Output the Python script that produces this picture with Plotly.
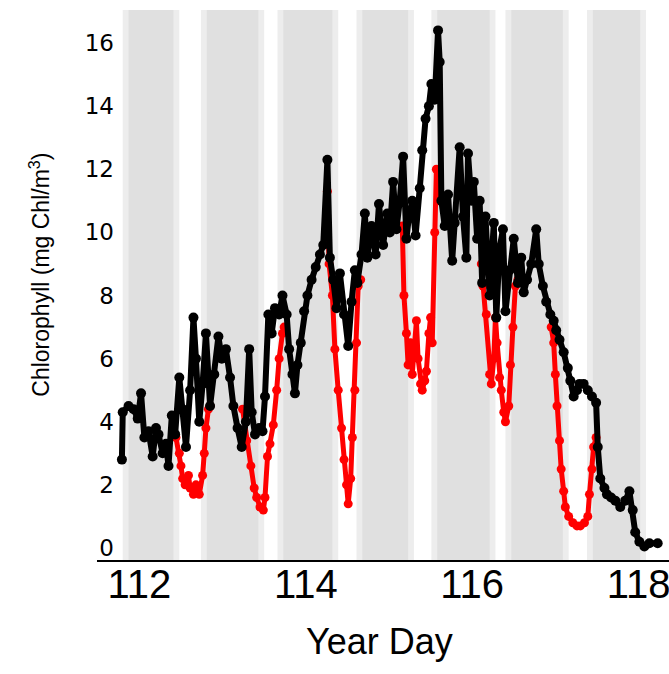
import plotly.graph_objects as go

# ---- data ----
black_day = [111.79, 111.80, 111.87, 111.93, 111.98, 112.02, 112.06, 112.11, 112.16, 112.20,
             112.23, 112.28, 112.32, 112.35, 112.39, 112.43, 112.48, 112.52, 112.56, 112.61,
             112.65, 112.68, 112.72, 112.76, 112.80, 112.85, 112.90, 112.95, 112.99, 113.04,
             113.09, 113.13, 113.18, 113.23, 113.28, 113.32, 113.35, 113.39, 113.44, 113.48,
             113.51, 113.55, 113.59, 113.63, 113.68, 113.72, 113.77, 113.80, 113.84, 113.87,
             113.90, 113.94, 113.98, 114.02, 114.07, 114.12, 114.17, 114.21, 114.26, 114.29,
             114.33, 114.37, 114.41, 114.46, 114.51, 114.55, 114.59, 114.62, 114.67, 114.71,
             114.74, 114.79, 114.84, 114.88, 114.93, 114.98, 115.01, 115.05, 115.09, 115.13,
             115.17, 115.21, 115.24, 115.28, 115.32, 115.37, 115.40, 115.44, 115.48, 115.51,
             115.55, 115.59, 115.61, 115.63, 115.67, 115.71, 115.76, 115.79, 115.85, 115.89,
             115.93, 115.95, 115.99, 116.02, 116.06, 116.09, 116.12, 116.16, 116.21, 116.26,
             116.29, 116.33, 116.37, 116.40, 116.45, 116.50, 116.55, 116.59, 116.62, 116.66,
             116.71, 116.77, 116.80, 116.85, 116.89, 116.94, 116.98, 117.01, 117.05, 117.10,
             117.15, 117.18, 117.22, 117.26, 117.29, 117.34, 117.39, 117.44, 117.49, 117.51,
             117.54, 117.59, 117.62, 117.67, 117.72, 117.78, 117.84, 117.89, 117.93, 117.96,
             118.01, 118.07, 118.13, 118.23]
black_chl = [2.8, 4.3, 4.5, 4.4, 4.1, 4.9, 3.5, 3.7, 2.9, 3.8,
             3.6, 3.0, 3.3, 2.6, 4.2, 3.6, 5.4, 4.4, 3.2, 5.0,
             7.3, 6.0, 4.0, 5.2, 6.8, 4.5, 5.5, 6.7, 6.0, 6.3,
             5.4, 4.5, 3.8, 3.2, 4.0, 6.3, 4.3, 3.6, 3.8, 3.7,
             4.8, 7.4, 6.8, 7.6, 7.4, 8.0, 7.4, 6.3, 5.5, 4.9,
             5.8, 6.5, 7.5, 8.0, 8.5, 8.9, 9.3, 9.6, 12.3, 9.2,
             8.5, 7.6, 8.7, 7.4, 6.4, 7.8, 8.8, 8.4, 9.3, 10.6,
             9.2, 10.2, 9.3, 10.9, 9.6, 10.6, 10.0, 11.6, 10.1, 11.0,
             12.4, 9.8, 10.5, 11.0, 9.9, 11.4, 12.6, 13.6, 14.0, 14.7,
             14.2, 16.4, 15.4, 11.0, 10.2, 11.2, 9.1, 10.3, 12.7, 10.5,
             9.2, 12.5, 11.0, 11.6, 9.8, 11.0, 8.4, 10.5, 8.0, 10.3,
             7.3, 9.5, 10.1, 7.5, 8.8, 9.8, 8.4, 9.2, 8.1, 8.5,
             9.0, 10.1, 9.0, 8.3, 7.8, 7.4, 7.2, 6.9, 6.6, 6.2,
             5.7, 5.3, 4.8, 5.0, 5.2, 5.2, 5.0, 4.8, 4.6, 3.2,
             2.2, 1.9, 1.7, 1.6, 1.5, 1.3, 1.5, 1.8, 1.2, 0.5,
             0.2, 0.05, 0.15, 0.15]

red_day = [112.44, 112.48, 112.50, 112.52, 112.55, 112.59, 112.61, 112.65, 112.68, 112.72,
           112.76, 112.78, 112.80, 112.83, 112.85, None,
           113.24, 113.29, 113.34, 113.38, 113.41, 113.45, 113.49, 113.51, 113.54, 113.57,
           113.61, 113.65, 113.68, 113.72, 113.74, None,
           114.26, 114.28, 114.32, 114.35, 114.39, 114.43, 114.46, 114.49, 114.51, 114.54,
           114.56, 114.59, 114.61, 114.63, 114.66, None,
           115.16, 115.18, 115.21, 115.23, 115.26, 115.28, 115.30, 115.33, 115.35, 115.38,
           115.40, 115.43, 115.45, 115.48, 115.50, 115.52, 115.55, 115.57, 115.60, None,
           116.11, 116.13, 116.17, 116.21, 116.23, 116.26, 116.28, 116.30, 116.33, 116.35,
           116.38, 116.40, 116.44, 116.46, 116.49, 116.52, 116.55, None,
           116.95, 116.98, 117.00, 117.02, 117.05, 117.07, 117.10, 117.12, 117.16, 117.21,
           117.26, 117.30, 117.35, 117.39, 117.41, 117.44, 117.46, 117.49]
red_chl = [3.5, 3.0, 2.6, 2.2, 2.0, 2.3, 1.9, 1.7, 2.0, 1.7,
           2.3, 3.0, 3.8, 4.4, 4.5, None,
           4.4, 3.4, 2.6, 1.9, 1.6, 1.3, 1.2, 1.6, 2.9, 3.3,
           3.9, 5.0, 6.0, 6.8, 7.0, None,
           11.3, 9.0, 8.0, 6.3, 5.0, 3.8, 2.8, 2.0, 1.4, 2.2,
           3.5, 5.0, 6.5, 8.3, 8.5, None,
           10.2, 8.0, 6.8, 5.8, 6.5, 5.5, 6.2, 7.2, 6.0, 5.2,
           5.0, 5.3, 5.6, 6.8, 7.3, 6.5, 10.0, 12.0, 11.0, None,
           9.0, 8.3, 7.4, 5.5, 5.2, 6.0, 7.3, 6.5, 5.4, 5.0,
           4.3, 4.0, 4.5, 5.8, 7.0, 8.3, 8.5, None,
           7.0, 6.5, 5.5, 4.5, 3.4, 2.5, 1.8, 1.3, 1.0, 0.8,
           0.7, 0.7, 0.8, 1.0, 1.7, 2.5, 3.2, 3.5]

night_start = [111.80, 112.74, 113.66, 114.61, 115.51, 116.40, 117.38]
night_end = [112.48, 113.50, 114.39, 115.30, 116.28, 117.16, 118.09]

x_ticks = [112, 114, 116, 118]
y_ticks = [0, 2, 4, 6, 8, 10, 12, 14, 16]

fig = go.Figure()

fig.add_trace(go.Scatter(
    x=red_day, y=red_chl, mode="lines+markers",
    line=dict(color="#ff0000", width=5),
    marker=dict(color="#ff0000", size=9, symbol="circle"),
    connectgaps=False, showlegend=False, hoverinfo="skip"))

fig.add_trace(go.Scatter(
    x=black_day, y=black_chl, mode="lines+markers",
    line=dict(color="#000000", width=6),
    marker=dict(color="#000000", size=10, symbol="circle"),
    showlegend=False, hoverinfo="skip"))

shapes = []
edge = 0.07
for s, e in zip(night_start, night_end):
    shapes.append(dict(type="rect", xref="x", yref="paper", x0=s, x1=e, y0=0, y1=1,
                       fillcolor="#ededed", line=dict(width=0), layer="below"))
    shapes.append(dict(type="rect", xref="x", yref="paper", x0=s + edge, x1=e - edge, y0=0, y1=1,
                       fillcolor="#e0e0e0", line=dict(width=0), layer="below"))

# bottom axis line (extends a little left of the plotting area)
shapes.append(dict(type="line", xref="paper", yref="paper", x0=-0.0325, x1=1, y0=0, y1=0,
                   line=dict(color="#000000", width=2)))

fig.update_layout(
    width=669, height=674,
    margin=dict(l=115, r=0, t=10, b=113, autoexpand=False),
    paper_bgcolor="white", plot_bgcolor="white",
    shapes=shapes,
    xaxis=dict(range=[111.707, 118.366], tickvals=x_ticks, ticktext=[str(v) for v in x_ticks],
               showgrid=False, zeroline=False, showline=False, automargin=False,
               ticks="", ticklabelstandoff=-4, ticklabeloverflow="allow",
               tickfont=dict(family="Liberation Sans, Arial, sans-serif", size=40, color="black")),
    yaxis=dict(range=[-0.412, 17.046], tickvals=y_ticks, ticktext=[str(v) for v in y_ticks],
               showgrid=False, zeroline=False, showline=False, ticks="", automargin=False,
               tickfont=dict(family="DejaVu Sans, sans-serif", size=23, color="black")),
    annotations=[
        dict(text="Year Day", xref="paper", yref="paper", x=0.478, y=-0.147,
             xanchor="center", yanchor="middle", showarrow=False,
             font=dict(family="Liberation Sans, Arial, sans-serif", size=36, color="black")),
        dict(text="Chlorophyll (mg Chl/m<sup>3</sup>)", xref="paper", yref="paper",
             x=-0.135, y=0.52, xanchor="center", yanchor="middle", textangle=-90, showarrow=False,
             font=dict(family="Liberation Sans, Arial, sans-serif", size=23, color="black")),
    ],
)

fig.write_html("out.html", config={"displayModeBar": False},
               post_script="document.body.style.margin='0';")
